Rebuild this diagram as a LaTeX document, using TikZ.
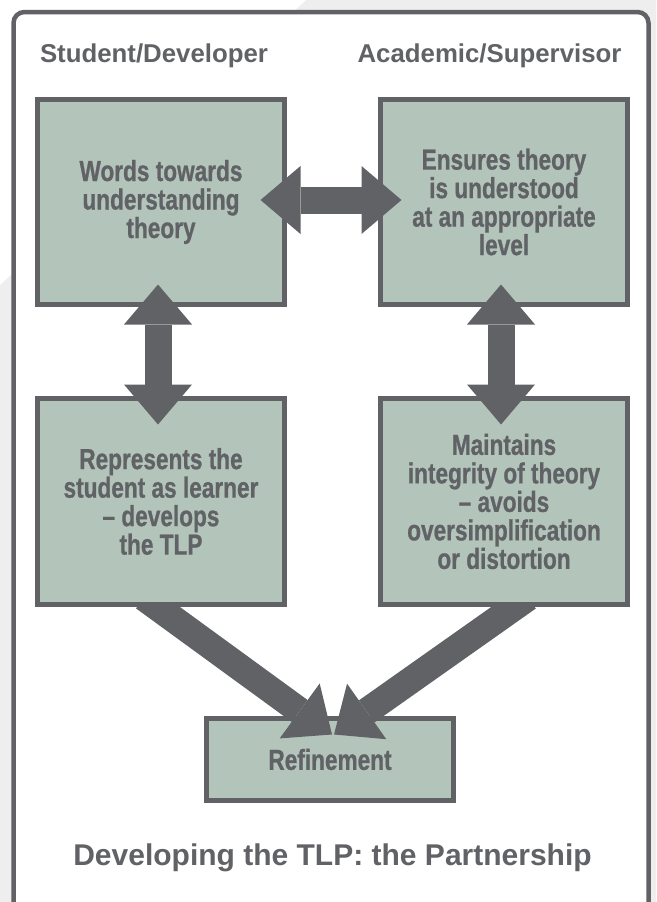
\documentclass[tikz,border=0pt]{standalone}
\usepackage{fontspec}
\setmainfont{Liberation Sans}
\newfontfamily\condfont[FakeStretch=0.78,FakeBold=0.8]{Liberation Sans}
\usetikzlibrary{arrows.meta,calc}
\definecolor{ink}{HTML}{616266}
\definecolor{sage}{HTML}{B3C5BB}
\definecolor{bggray}{HTML}{EEEEEE}
\tikzset{
  box/.style={draw=ink, line width=5pt, fill=sage, minimum width=247pt, minimum height=205pt,
    inner sep=0pt, text=ink, align=center, font={\condfont\bfseries\fontsize{29}{28.5}\selectfont}},
  hdr/.style={text=ink, anchor=base, inner sep=0pt, font={\bfseries\fontsize{25.8}{30}\selectfont}},
  dbl/.style={draw=ink, line width=27pt,
    {Triangle[length=40pt,width=68pt,line width=0pt]}-{Triangle[length=40pt,width=68pt,line width=0pt]}},
  sgl/.style={draw=ink, line width=27pt, -{Triangle[length=40pt,width=68pt,line width=0pt]}},
}
\begin{document}
\begin{tikzpicture}[x=1pt,y=-1pt]
\useasboundingbox (0,0) rectangle (656,902);
\clip (0,0) rectangle (656,902);
\fill[bggray] (0,0) rectangle (656,902);
\fill[white] (0,0) -- (306,0) -- (0,285) -- cycle;
\draw[ink, line width=4.5pt, fill=white, rounded corners=11pt] (13.5,12) rectangle (648.5,940);

\node[hdr] (h1) at (154,62) {Student/Developer};
\node[hdr] (h2) at (489.5,62) {Academic/Supervisor};

\node[box] (TL) at (161,202) {Words towards\\understanding\\theory};
\node[box] (TR) at (504,202) {Ensures theory\\is understood\\at an appropriate\\level};
\node[box, minimum height=206pt] (BL) at (161,501.5) {Represents the\\student as learner\\– develops\\the TLP};
\node[box, minimum height=206pt] (BR) at (504,501.5) {Maintains\\integrity of theory\\– avoids\\oversimplification\\or distortion};
\node[box, minimum height=82pt] (RF) at (330,759.5) {Refinement};

\draw[dbl] ($(TL.east)+(-26.5,-2)$) -- ($(TR.west)+(23.5,-2)$);
\draw[dbl] ($(TL.south)+(-3,-22.5)$) -- ($(BL.north)+(-3,28.5)$);
\draw[dbl] ($(TR.south)+(-3,-22.5)$) -- ($(BR.north)+(-3,28.5)$);

\begin{scope}
\clip (0,607) rectangle (656,902);
\draw[sgl] ($(BL.south)+(-17,-9.5)$) -- ($(RF.north)+(2,18.5)$);
\draw[sgl] ($(BR.south)+(24,-9.5)$) -- ($(RF.north)+(4,18.5)$);
\end{scope}

\node[hdr, font={\bfseries\fontsize{30}{34}\selectfont}] (title) at (332.5,865) {Developing the TLP: the Partnership};
\end{tikzpicture}
\end{document}
